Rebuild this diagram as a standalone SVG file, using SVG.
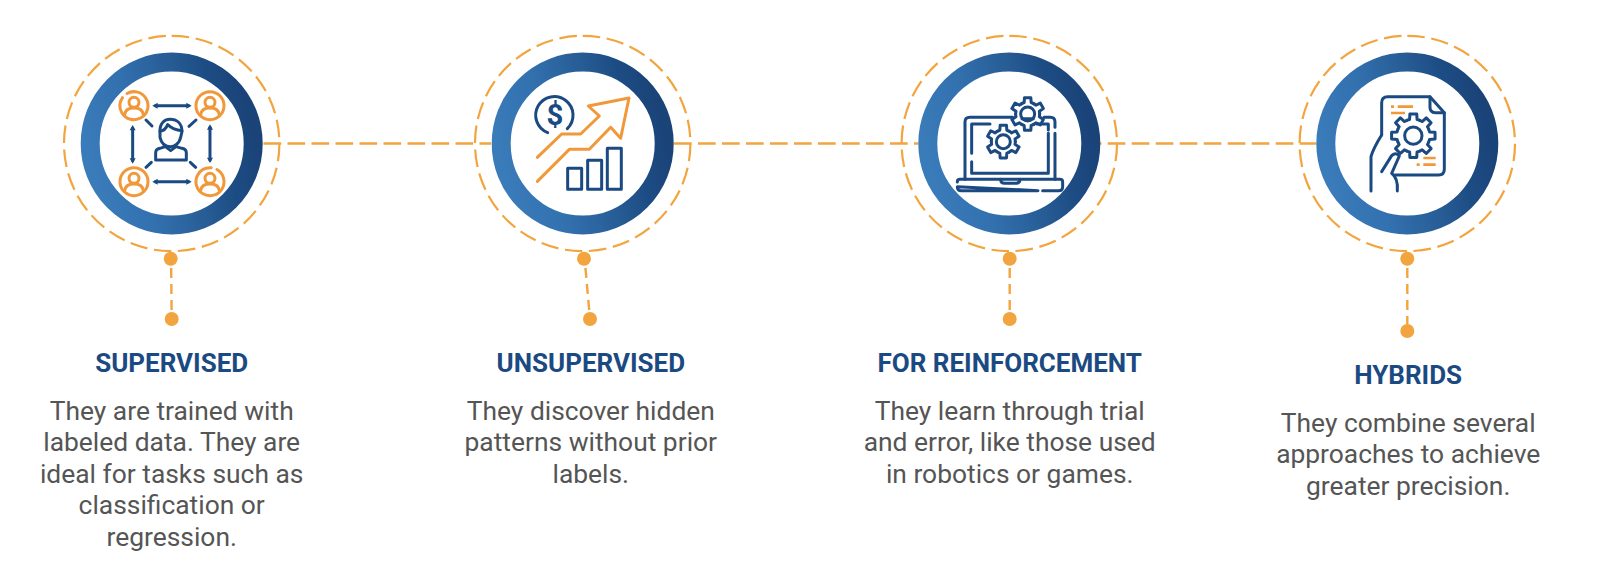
<svg xmlns="http://www.w3.org/2000/svg" width="1600" height="588" viewBox="0 0 1600 588">
<style>
.ring{fill:#fff;stroke:url(#rg);stroke-width:19}
.halo{fill:none;stroke:#F2A53E;stroke-width:2.2;stroke-dasharray:17.5 6.67}
.h{fill:none;stroke:#F2A53E;stroke-width:2.4;stroke-dasharray:17.7 6.3}
.v{fill:none;stroke:#F2A53E;stroke-width:2.4;stroke-dasharray:10 6}
.dot{fill:#F2A53E}
.t{font-family:Roboto,"Liberation Sans",sans-serif;font-weight:700;font-size:26px;fill:#1B4A82;text-anchor:middle}
.b{font-family:Roboto,"Liberation Sans",sans-serif;font-weight:400;font-size:26.4px;fill:#555555;text-anchor:middle}
.ib{fill:none;stroke:#1B4A82;stroke-width:9;stroke-linecap:round;stroke-linejoin:round}
.io{fill:none;stroke:#F0983A;stroke-width:9;stroke-linecap:round;stroke-linejoin:round}
.ibar{fill:none;stroke:#F0983A;stroke-width:8}
</style>
<defs>
<linearGradient id="rg" x1="0" y1="0.62" x2="1" y2="0.38">
<stop offset="0" stop-color="#3A7BBA"/><stop offset="0.3" stop-color="#3270AE"/><stop offset="0.6" stop-color="#275C95"/><stop offset="0.8" stop-color="#1D4C84"/><stop offset="1" stop-color="#1A4378"/>
</linearGradient>
<marker id="ah" markerUnits="userSpaceOnUse" markerWidth="26" markerHeight="26" refX="11" refY="13" viewBox="0 0 26 26" orient="auto-start-reverse"><path d="M4,4 L20,13 L4,22 Z" fill="#1B4A82"/></marker>
<path id="seg6" d="M-18 -31.2A36 36 0 0 1 -10.5 -34.4L-9.5 -49.1L9.5 -49.1L10.5 -34.4A36 36 0 0 1 18 -31.2"/>
<g id="gear6" class="ib">
<circle r="38" fill="#fff" stroke="none"/>
<use href="#seg6"/><use href="#seg6" transform="rotate(60)"/><use href="#seg6" transform="rotate(120)"/><use href="#seg6" transform="rotate(180)"/><use href="#seg6" transform="rotate(240)"/><use href="#seg6" transform="rotate(300)"/>
</g>
<path id="seg8" d="M-19.1 -46.2A50 50 0 0 1 -11.2 -48.7L-10.3 -65.2L10.3 -65.2L11.2 -48.7A50 50 0 0 1 19.1 -46.2"/>
<g id="user"><circle cx="0" cy="-10" r="15"/><path d="M-28,28 C-27,10 -14,7 0,7 C14,7 27,10 28,28"/></g>
</defs>
<rect width="1600" height="588" fill="#fff"/>
<g id="connectors">
<path class="h" d="M263.5 143.5H491"/>
<path class="h" d="M674 143.5H918"/>
<path class="h" d="M1083.7 143.5H1316"/>
<path class="v" d="M171 252L171.7 319"/>
<path class="v" d="M584 252L590 319"/>
<path class="v" d="M1009.7 252V319"/>
<path class="v" d="M1407.3 252V331"/>
</g>
<g id="node-supervised">
<circle class="halo" cx="171.7" cy="143.5" r="107.7" transform="rotate(-90 171.7 143.5)"/>
<circle class="ring" cx="171.7" cy="143.5" r="81.5"/>
<circle class="dot" cx="170.7" cy="258.7" r="7"/><circle class="dot" cx="171.7" cy="319" r="7"/>
<g transform="translate(50 20) scale(.3333)">
<g class="io">
<circle cx="252" cy="257" r="42" stroke-dasharray="244 20" transform="rotate(-120 252 257)"/><use href="#user" x="252" y="257"/>
<circle cx="480" cy="257" r="42"/><use href="#user" x="480" y="257"/>
<circle cx="252" cy="485" r="42"/><use href="#user" x="252" y="485"/>
<circle cx="480" cy="485" r="42" stroke-dasharray="244 20" transform="rotate(-60 480 485)"/><use href="#user" x="480" y="485"/>
</g>
<g class="ib">
<path d="M316 257H416" marker-start="url(#ah)" marker-end="url(#ah)"/>
<path d="M316 485H416" marker-start="url(#ah)" marker-end="url(#ah)"/>
<path d="M248 324V422" marker-start="url(#ah)" marker-end="url(#ah)"/>
<path d="M480 322V420" marker-start="url(#ah)" marker-end="url(#ah)"/>
<path d="M288 300L306 318M438 300L417 319M288 442L304 427M437 442L421 427"/>
<path d="M330 332C330 308 345 298 360 298C380 298 396 310 396 335L392 352C388 372 372 380 362 380C346 380 334 370 330 352Z"/>
<path d="M330 334Q346 332 353 314Q370 330 396 332"/>
<path d="M317 420V398Q317 388 330 385L346 380L362 392L378 380L396 385Q409 388 409 398V420Z"/>
</g>
</g>
<text class="t" x="171.7" y="372.3">SUPERVISED</text>
<text class="b" x="171.7" y="420">They are trained with</text>
<text class="b" x="171.7" y="451.4">labeled data. They are</text>
<text class="b" x="171.7" y="482.8">ideal for tasks such as</text>
<text class="b" x="171.7" y="514.2">classification or</text>
<text class="b" x="171.7" y="545.6">regression.</text>
</g>
<g id="node-unsupervised">
<circle class="halo" cx="582.7" cy="143.5" r="107.7" transform="rotate(-90 582.7 143.5)"/>
<circle class="ring" cx="582.7" cy="143.5" r="81.5"/>
<circle class="dot" cx="584" cy="258.7" r="7"/><circle class="dot" cx="590" cy="319" r="7"/>
<g transform="translate(460 20) scale(.3333)">
<path class="ib" d="M263 338A56 56 0 1 1 322 326"/>
<text x="285" y="315" font-family="Roboto,'Liberation Sans',sans-serif" font-weight="700" font-size="88" fill="#1B4A82" text-anchor="middle">$</text>
<path class="io" d="M232 412L305 342H362L418 288L385 258L507 234L482 355L452 322L388 388H328L232 484"/>
<g class="ib"><rect x="323" y="445" width="42" height="63"/><rect x="383" y="421" width="42" height="87"/><rect x="442" y="385" width="42" height="123"/></g>
</g>
<text class="t" x="590.8" y="372.3">UNSUPERVISED</text>
<text class="b" x="590.8" y="420">They discover hidden</text>
<text class="b" x="590.8" y="451.4">patterns without prior</text>
<text class="b" x="590.8" y="482.8">labels.</text>
</g>
<g id="node-reinforcement">
<circle class="halo" cx="1009.3" cy="143.5" r="107.7" transform="rotate(-90 1009.3 143.5)"/>
<circle class="ring" cx="1009.3" cy="143.5" r="81.5"/>
<circle class="dot" cx="1009.7" cy="258.7" r="7"/><circle class="dot" cx="1009.7" cy="319" r="7"/>
<g transform="translate(890 20) scale(.3333)">
<g class="ib">
<path d="M225 478V306Q225 292 240 292H368M462 292H481Q495 292 495 306V322M495 340V478"/>
<path d="M245 400V312H300M245 425V460H475V340M475 330V312H440"/>
<path d="M202 486Q202 478 210 478H510Q518 478 518 486V500Q518 512 506 512H458M444 512H214Q202 512 202 500Z"/>
<path d="M332 478Q332 490 344 490H378Q390 490 390 478"/>
</g>
<use href="#gear6" x="413" y="282"/><circle class="ib" cx="413" cy="282" r="21"/><path class="ib" d="M396 296H430"/>
<use href="#gear6" x="340" y="365"/><circle class="ib" cx="340" cy="365" r="21"/>
</g>
<text class="t" x="1009.7" y="372.3">FOR REINFORCEMENT</text>
<text class="b" x="1009.7" y="420">They learn through trial</text>
<text class="b" x="1009.7" y="451.4">and error, like those used</text>
<text class="b" x="1009.7" y="482.8">in robotics or games.</text>
</g>
<g id="node-hybrids">
<circle class="halo" cx="1407.3" cy="143.5" r="107.7" transform="rotate(-90 1407.3 143.5)"/>
<circle class="ring" cx="1407.3" cy="143.5" r="81.5"/>
<circle class="dot" cx="1407.3" cy="258.7" r="7"/><circle class="dot" cx="1407.3" cy="331" r="7"/>
<g transform="translate(1290 20) scale(.3333)">
<g class="ib">
<path d="M275 345V248Q275 230 293 230H420L463 278V448Q463 465 446 465H315"/>
<path d="M420 230V262Q420 278 436 278H463"/>
<path d="M243 513V410Q250 385 275 345"/>
<path d="M275 455L305 407Q318 395 328 408L305 460Q325 475 322 513"/>
<g transform="translate(370 347)"><use href="#seg8"/><use href="#seg8" transform="rotate(45)"/><use href="#seg8" transform="rotate(90)"/><use href="#seg8" transform="rotate(135)"/><use href="#seg8" transform="rotate(180)"/><use href="#seg8" transform="rotate(225)"/><use href="#seg8" transform="rotate(270)"/><use href="#seg8" transform="rotate(315)"/></g>
<circle cx="370" cy="347" r="26"/>
</g>
<path class="ibar" d="M303 260H312M323 260H369M303 279H345M400 414H437M380 434H389M400 434H437"/>
</g>
<text class="t" x="1408.2" y="384">HYBRIDS</text>
<text class="b" x="1408.2" y="431.5">They combine several</text>
<text class="b" x="1408.2" y="463">approaches to achieve</text>
<text class="b" x="1408.2" y="494.5">greater precision.</text>
</g>
</svg>
